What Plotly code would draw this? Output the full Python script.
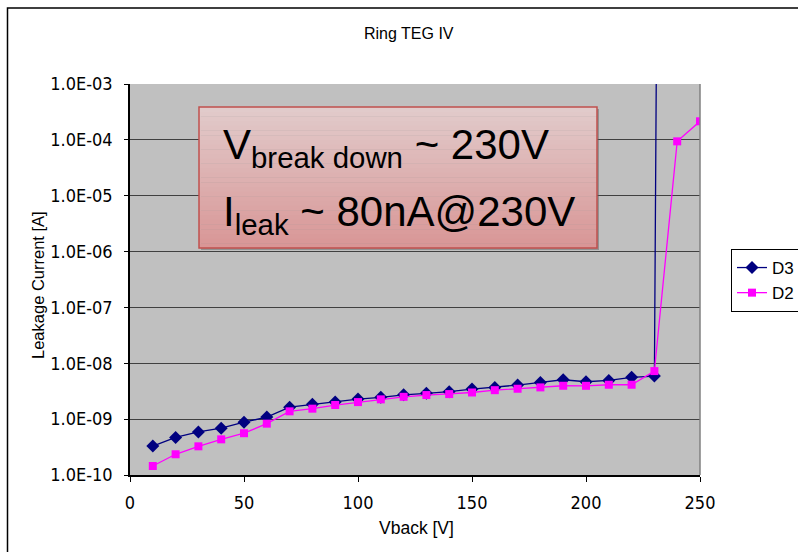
import plotly.graph_objects as go
import numpy as np

# Data
vback = [10, 20, 30, 40, 50, 60, 70, 80, 90, 100, 110, 120, 130, 140, 150, 160,
         170, 180, 190, 200, 210, 220, 230]
d3_vback = vback + [231]
d3_current = [3.3e-10, 4.7e-10, 5.9e-10, 6.9e-10, 8.8e-10, 1.09e-9, 1.64e-9, 1.84e-9,
              2.02e-9, 2.29e-9, 2.46e-9, 2.73e-9, 2.9e-9, 3.1e-9, 3.45e-9, 3.7e-9,
              4.07e-9, 4.55e-9, 5.07e-9, 4.67e-9, 4.94e-9, 5.6e-9, 5.9e-9, 2e-2]
d2_vback = vback + [240, 250]
d2_current = [1.45e-10, 2.35e-10, 3.26e-10, 4.35e-10, 5.6e-10, 8.3e-10, 1.38e-9, 1.54e-9,
              1.79e-9, 2.02e-9, 2.26e-9, 2.51e-9, 2.7e-9, 2.81e-9, 3.0e-9, 3.3e-9,
              3.5e-9, 3.7e-9, 3.96e-9, 3.95e-9, 4.13e-9, 4.13e-9, 7.25e-9, 9.4e-5, 2.15e-4]
ytick_vals = [1e-10, 1e-9, 1e-8, 1e-7, 1e-6, 1e-5, 1e-4, 1e-3]
ytick_text = ["1.0E-10", "1.0E-09", "1.0E-08", "1.0E-07", "1.0E-06", "1.0E-05", "1.0E-04", "1.0E-03"]
xtick_vals = [0, 50, 100, 150, 200, 250]

W, H = 798, 552
ML, MR, MT, MB = 130, 98, 84, 77
PW, PH = W - ML - MR, H - MT - MB

def px2x(px):
    return (px - ML) / PW

def py2y(py):
    return (H - MB - py) / PH

tick_font = dict(family="Liberation Sans Narrow, DejaVu Sans Condensed, Liberation Mono, monospace",
                 size=18, color="#000000")
sans = "Liberation Sans, Arial, sans-serif"

fig = go.Figure()
fig.add_trace(go.Scatter(
    x=d3_vback, y=d3_current, name="D3", mode="lines+markers",
    line=dict(color="#000080", width=1.3),
    marker=dict(symbol="diamond", size=10, color="#000080"),
))
fig.add_trace(go.Scatter(
    x=d2_vback, y=d2_current, name="D2", mode="lines+markers",
    line=dict(color="#FF00FF", width=1.3),
    marker=dict(symbol="square", size=8, color="#FF00FF"),
))

shapes = []
# outer chart border
shapes.append(dict(type="rect", xref="paper", yref="paper",
                   x0=px2x(7.5), x1=px2x(820), y0=py2y(8), y1=py2y(570),
                   line=dict(color="#000000", width=1.5), fillcolor="rgba(0,0,0,0)", layer="below"))
# annotation box shadow
bx0, bx1, by0, by1 = 199, 597, 107, 248
shapes.append(dict(type="rect", xref="paper", yref="paper",
                   x0=px2x(bx0 + 2), x1=px2x(bx1 + 2), y0=py2y(by1 + 2), y1=py2y(by0 + 2),
                   line=dict(width=0), fillcolor="rgba(90,90,90,0.45)", layer="above"))
# gradient box in strips
n = 30
top = np.array([226, 204, 204])
bot = np.array([217, 150, 150])
for i in range(n):
    t = (i + 0.5) / n
    c = top + (bot - top) * t
    y_a = by0 + (by1 - by0) * i / n
    y_b = by0 + (by1 - by0) * (i + 1) / n
    shapes.append(dict(type="rect", xref="paper", yref="paper",
                       x0=px2x(bx0), x1=px2x(bx1), y0=py2y(y_b + 0.3), y1=py2y(y_a),
                       line=dict(width=0),
                       fillcolor=f"rgb({int(c[0])},{int(c[1])},{int(c[2])})", layer="above"))
shapes.append(dict(type="rect", xref="paper", yref="paper",
                   x0=px2x(bx0), x1=px2x(bx1), y0=py2y(by1), y1=py2y(by0),
                   line=dict(color="#C0504D", width=1.5), fillcolor="rgba(0,0,0,0)", layer="above"))
# right border of plot area (gray)
shapes.append(dict(type="line", xref="paper", yref="paper", x0=1, x1=1, y0=0, y1=1,
                   line=dict(color="#808080", width=1.5)))

annotations = [
    dict(xref="paper", yref="paper", x=px2x(221), y=py2y(176), xanchor="left", yanchor="bottom",
         text="V<sub>break down</sub> ~ 230V", showarrow=False,
         font=dict(family=sans, size=42, color="#000000")),
    dict(xref="paper", yref="paper", x=px2x(221), y=py2y(243), xanchor="left", yanchor="bottom",
         text="I<sub>leak</sub> ~ 80nA@230V", showarrow=False,
         font=dict(family=sans, size=42, color="#000000")),
    # chart title
    dict(xref="paper", yref="paper", x=px2x(409), y=py2y(33), xanchor="center", yanchor="middle",
         text="Ring TEG IV", showarrow=False,
         font=dict(family=sans, size=16, color="#000000")),
    # axis titles
    dict(xref="paper", yref="paper", x=px2x(377), y=py2y(528), xanchor="left", yanchor="middle",
         text="Vback [V]", showarrow=False,
         font=dict(family=sans, size=17.5, color="#000000")),
    dict(xref="paper", yref="paper", x=px2x(38), y=py2y(285), xanchor="center", yanchor="middle",
         text="Leakage Current [A]", showarrow=False, textangle=-90,
         font=dict(family=sans, size=16.5, color="#000000")),
]

fig.update_layout(
    width=W, height=H,
    margin=dict(l=ML, r=MR, t=MT, b=MB, autoexpand=False),
    paper_bgcolor="#FFFFFF",
    plot_bgcolor="#C0C0C0",
    showlegend=True,
    legend=dict(x=px2x(731), xanchor="left", y=py2y(249), yanchor="top",
                bgcolor="#FFFFFF", bordercolor="#000000", borderwidth=1,
                font=dict(family=sans, size=17, color="#000000"),
                tracegroupgap=0),
    shapes=shapes,
    annotations=annotations,
)
fig.update_xaxes(
    range=[0, 250], tickvals=xtick_vals, ticks="outside", ticklen=5, tickcolor="#000000",
    showgrid=False, zeroline=False, showline=True, linecolor="#000000", linewidth=1.5,
    mirror=False, tickfont=tick_font, ticklabelstandoff=6, automargin=False,
)
fig.update_yaxes(
    type="log", range=[-10, -3], tickvals=ytick_vals, ticktext=ytick_text,
    ticks="outside", ticklen=4, tickcolor="#000000",
    showgrid=True, gridcolor="#404040", gridwidth=1,
    zeroline=False, showline=True, linecolor="#000000", linewidth=1.5,
    tickfont=tick_font, ticklabelstandoff=8, automargin=False,
)

fig.write_html("out.html")
